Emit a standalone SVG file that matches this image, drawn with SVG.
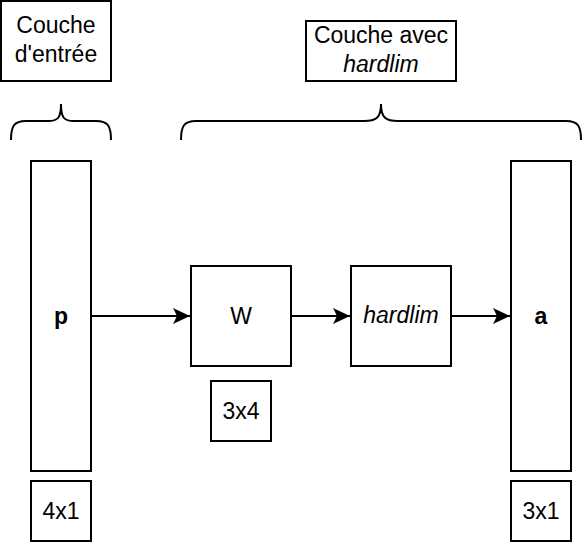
<svg xmlns="http://www.w3.org/2000/svg" width="582" height="542" viewBox="0 0 582 542">
<style>
.b{fill:#fff;stroke:#000;stroke-width:2}
.t{font-family:"Liberation Sans",Arial,sans-serif;font-size:23px;fill:#000;text-anchor:middle}
.br{fill:none;stroke:#000;stroke-width:2}
.c{fill:none;stroke:#000;stroke-width:2}
</style>
<defs>
<marker id="ar" markerUnits="userSpaceOnUse" markerWidth="18" markerHeight="18" refX="17" refY="8.5" orient="auto" viewBox="0 0 18 18">
<path d="M0,0.5 L17,8.5 L0,16.5 L4,8.5 Z" fill="#000"/>
</marker>
</defs>
<rect width="582" height="542" fill="#fff"/>
<g id="label-entree"><rect class="b" x="1" y="1" width="110" height="80"/><text class="t" x="56" y="33">Couche</text><text class="t" x="56" y="62">d'entrée</text></g>
<g id="label-hardlim"><rect class="b" x="306" y="21" width="150" height="60"/><text class="t" x="381" y="43">Couche avec</text><text class="t" x="381" y="72" font-style="italic">hardlim</text></g>
<g id="brace-left"><path class="br" d="M11,140 C11,126 14,121 26,121 L48,121 C58,121 61,118 61,104 C61,118 64,121 74,121 L96,121 C108,121 111,126 111,140"/></g>
<g id="brace-right"><path class="br" d="M181,140 C181,126 184,121 196,121 L364,121 C376,121 381,118 381,104 C381,118 386,121 398,121 L566,121 C578,121 581,126 581,140"/></g>
<g id="p"><rect class="b" x="31" y="161" width="60" height="310"/><text class="t" x="61" y="324" font-weight="bold">p</text></g>
<g id="W"><rect class="b" x="191" y="266" width="100" height="100"/><text class="t" x="241" y="324">W</text></g>
<g id="hardlim"><rect class="b" x="351" y="266" width="100" height="100"/><text class="t" x="401" y="323" font-style="italic" font-size="19.5">hardlim</text></g>
<g id="a"><rect class="b" x="511" y="161" width="60" height="310"/><text class="t" x="541" y="324" font-weight="bold">a</text></g>
<g id="dim-W"><rect class="b" x="211" y="381" width="60" height="60"/><text class="t" x="241" y="419">3x4</text></g>
<g id="dim-p"><rect class="b" x="31" y="481" width="60" height="60"/><text class="t" x="61" y="519">4x1</text></g>
<g id="dim-a"><rect class="b" x="511" y="481" width="60" height="60"/><text class="t" x="541" y="519">3x1</text></g>
<g id="connectors">
<line class="c" x1="91" y1="316" x2="190" y2="316" marker-end="url(#ar)"/>
<line class="c" x1="291" y1="316" x2="350" y2="316" marker-end="url(#ar)"/>
<line class="c" x1="451" y1="316" x2="510" y2="316" marker-end="url(#ar)"/>
</g>
</svg>
